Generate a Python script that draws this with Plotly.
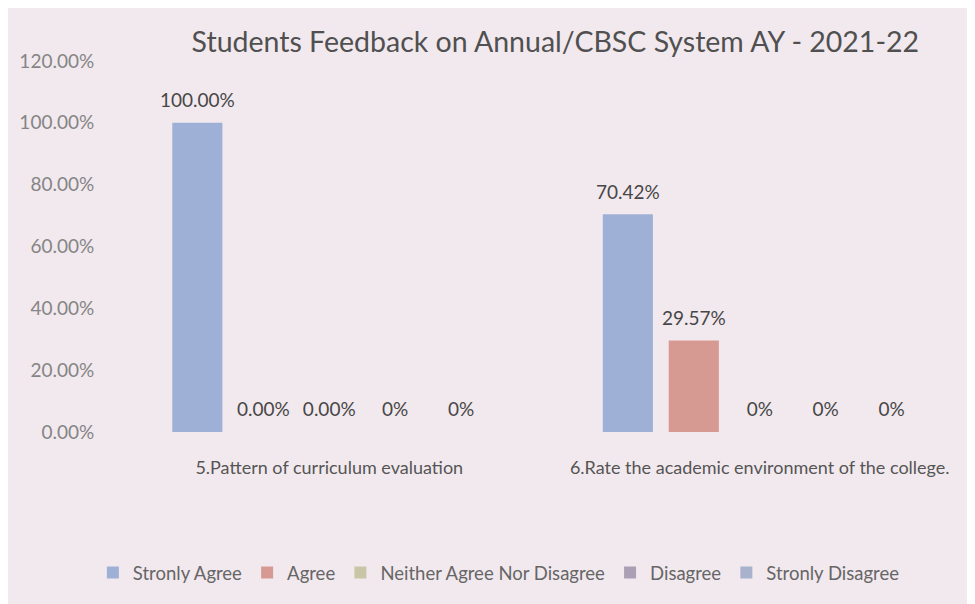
import plotly.graph_objects as go

categories = ["5.Pattern of curriculum evaluation", "6.Rate the academic environment of the college."]
series_names = ["Stronly Agree", "Agree", "Neither Agree Nor Disagree", "Disagree", "Stronly Disagree"]
strongly_agree = [1.0, 0.7042]
agree = [0.0, 0.2957]
neither = [0.0, 0.0]
disagree = [0.0, 0.0]
strongly_disagree = [0.0, 0.0]
labels_sa = ["100.00%", "70.42%"]
labels_a = ["0.00%", "29.57%"]
labels_n = ["0.00%", "0%"]
labels_d = ["0%", "0%"]
labels_sd = ["0%", "0%"]
y_ticks = [0, 0.2, 0.4, 0.6, 0.8, 1.0, 1.2]

series_values = [strongly_agree, agree, neither, disagree, strongly_disagree]
series_labels = [labels_sa, labels_a, labels_n, labels_d, labels_sd]
bar_colors = ["#9fb0d6", "#d79a93", "#c9c6a8", "#ab9fb6", "#a9b2cc"]

BG = "#f2e9ee"
FONT = "Lato"
GAP = 0.234

fig = go.Figure()
for name, vals, col in zip(series_names, series_values, bar_colors):
    fig.add_trace(go.Bar(
        x=categories, y=vals, name=name,
        marker=dict(color=col, line=dict(width=0)),
    ))
for i, (vals, labs) in enumerate(zip(series_values, series_labels)):
    fig.add_trace(go.Scatter(
        x=categories, y=vals, text=labs, mode="markers+text",
        textposition="top center", cliponaxis=False, showlegend=False,
        marker=dict(size=16, opacity=0),
        textfont=dict(size=19, color="#474747", family=FONT),
        hoverinfo="skip",
    ))

fig.update_layout(
    width=967, height=596,
    paper_bgcolor=BG, plot_bgcolor=BG,
    barmode="group", bargap=GAP, bargroupgap=0.24,
    scattermode="group", scattergap=GAP,
    margin=dict(l=106, r=0, t=53, b=172),
    title=dict(text="Students Feedback on Annual/CBSC System AY - 2021-22",
               x=0.566, xanchor="center", y=0.943, yanchor="middle",
               font=dict(size=28.5, color="#505050", family=FONT)),
    font=dict(family=FONT, color="#606060"),
    legend=dict(orientation="h", x=0.447, xanchor="center", y=-0.38, yanchor="middle",
                font=dict(size=18.5, color="#666666", family=FONT),
                itemwidth=30, bgcolor="rgba(0,0,0,0)", traceorder="normal"),
    showlegend=True,
)
fig.update_yaxes(range=[0, 1.2], tickvals=y_ticks, tickformat=".2%",
                 showgrid=False, zeroline=False, showline=False,
                 ticks="outside", ticklen=15, tickcolor=BG,
                 tickfont=dict(size=19, color="#858585", family=FONT))
fig.update_xaxes(showline=False, ticks="outside", ticklen=19, tickcolor=BG,
                 tickfont=dict(size=18, color="#555555", family=FONT))

fig.write_html("out.html")
